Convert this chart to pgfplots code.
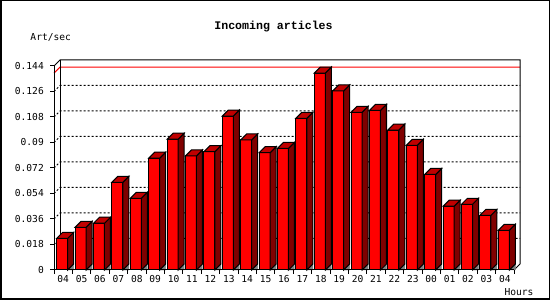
\documentclass[border=0pt]{standalone}
\usepackage{fontspec}
\setmainfont{DejaVu Sans Mono}
\newfontfamily\titlefont{Liberation Mono}
\usepackage{pgfplots}
\usepackage{pgfplotstable}
\pgfplotsset{compat=1.18}
\definecolor{barfront}{RGB}{255,0,0}
\definecolor{barside}{RGB}{128,0,0}
\definecolor{bartop}{RGB}{192,0,0}
\definecolor{floorgray}{RGB}{128,128,128}
\pgfplotstableread{
x v
0 0.0224
1 0.0301
2 0.0330
3 0.0619
4 0.0506
5 0.0789
6 0.0923
7 0.0805
8 0.0835
9 0.1087
10 0.0918
11 0.0828
12 0.0859
13 0.1071
14 0.1390
15 0.1264
16 0.1113
17 0.1127
18 0.0988
19 0.0880
20 0.0675
21 0.0450
22 0.0464
23 0.0386
24 0.0280
}\datatable
\begin{document}
\begin{tikzpicture}[x=1pt,y=1pt,line width=1pt]
\draw[line width=1.5pt] (0.75,0.75) rectangle (549.25,299.25);
\node[font=\titlefont\bfseries\fontsize{11.6}{12}\selectfont, inner sep=0pt] at (273.5,273) {Incoming articles};
\node[font=\fontsize{9.6}{10}\selectfont, anchor=west, inner sep=0pt] at (30,263) {Art/sec};
\node[font=\fontsize{9.6}{10}\selectfont, anchor=west, inner sep=0pt] at (504,8) {Hours};
% back plane grid
\foreach \k in {1,...,7} {
  \draw[dash pattern=on 2pt off 2pt] (54,30+25.5*\k) -- (60,36+25.5*\k) -- (520,36+25.5*\k);
}
\draw[red] (54,226.9) -- (60,232.9) -- (520,232.9);
\draw (54,234) -- (60,240) -- (520,240) -- (520,36) -- (514,30);
\draw (60,240) -- (60,36);
\begin{axis}[
  at={(54pt,30pt)}, anchor=south west, scale only axis,
  width=460pt, height=204pt,
  xmin=-0.5, xmax=24.5, ymin=0, ymax=0.144,
  axis line style={draw=none},
  major tick length=0pt,
  xtick={0,...,24},
  xticklabels={04,05,06,07,08,09,10,11,12,13,14,15,16,17,18,19,20,21,22,23,00,01,02,03,04},
  ytick={0,0.018,0.036,0.054,0.072,0.09,0.108,0.126,0.144},
  yticklabels={0,0.018,0.036,0.054,0.072,0.09,0.108,0.126,0.144},
  tick label style={font=\fontsize{9.6}{10}\selectfont, inner sep=0pt},
  xticklabel style={anchor=north, yshift=-5pt},
  yticklabel style={anchor=east, xshift=-10pt},
  clip=false,
]
\addplot[only marks, mark=*, mark size=0pt, mark options={draw=none, fill=none},
  visualization depends on={rawy \as \rawy},
  scatter,
  scatter/@pre marker code/.code={%
    \pgfmathsetmacro\h{\rawy*1416.6667}%
    \pgfmathsetmacro\hb{6-\h}%
    \fill[floorgray] (4.5pt,-\h pt) -- (10.5pt,\hb pt) -- (10.5pt,-\h pt) -- cycle;
    \filldraw[fill=barside, draw=black, line width=1pt] (4.5pt,0pt) -- (10.5pt,6pt) -- (10.5pt,\hb pt) -- (4.5pt,-\h pt) -- cycle;
    \filldraw[fill=bartop, draw=black, line width=1pt] (-6.5pt,0pt) -- (4.5pt,0pt) -- (10.5pt,6pt) -- (-0.5pt,6pt) -- cycle;
  },
  scatter/@post marker code/.code={},
] table[x=x, y=v] {\datatable};
\addplot[ybar, bar width=11pt, bar shift=-1pt, fill=barfront, draw=black, line width=1pt] table[x=x, y=v] {\datatable};
\end{axis}
\draw (54,234) -- (54,30) -- (514,30);
\foreach \k in {0,...,8} { \draw (50,30+25.5*\k) -- (54,30+25.5*\k); }
\foreach \i in {0,...,25} { \draw (54+18.4*\i,30) -- (54+18.4*\i,26); }
\end{tikzpicture}
\end{document}
